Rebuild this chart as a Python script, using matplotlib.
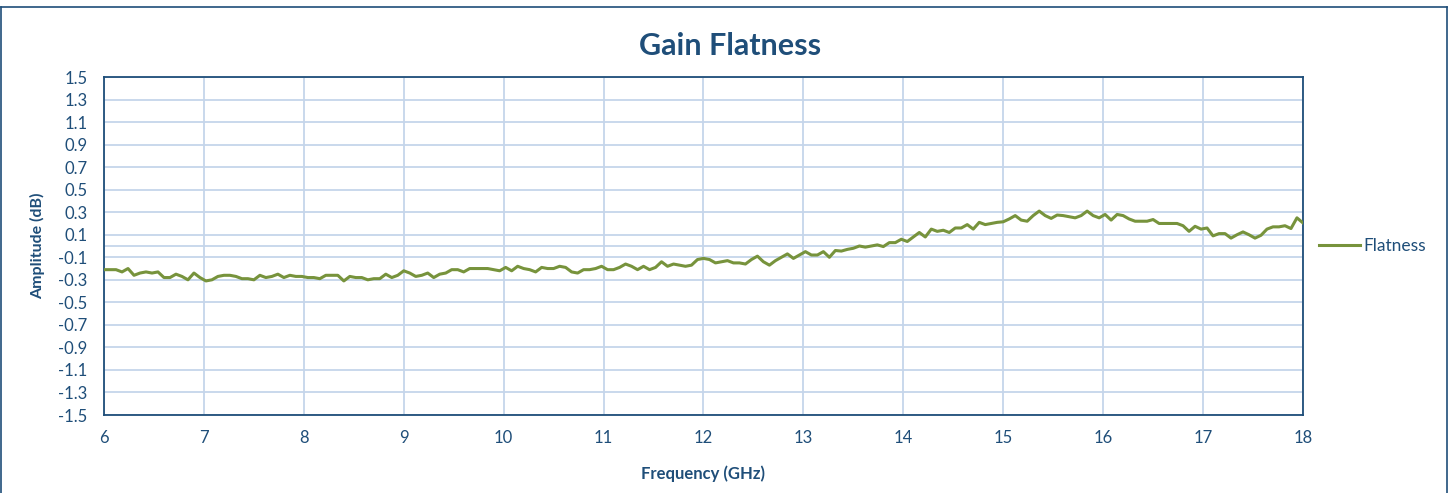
import numpy as np
import matplotlib.pyplot as plt
from matplotlib.lines import Line2D

# sweep grid 6..18 GHz, 0.06 GHz step (201 points)
freq_ghz = np.round(np.arange(6.0, 18.0001, 0.06), 2)

flatness_db = [
    # 6.00 - 6.96
    -0.21, -0.21, -0.21, -0.23, -0.20, -0.26, -0.24, -0.23, -0.24, -0.23, -0.28, -0.28, -0.25, -0.27, -0.30, -0.24, -0.28,
    # 7.02 - 7.98
    -0.31, -0.30, -0.27, -0.26, -0.26, -0.27, -0.29, -0.29, -0.30, -0.26, -0.28, -0.27, -0.25, -0.28, -0.26, -0.27, -0.27,
    # 8.04 - 8.94
    -0.28, -0.28, -0.29, -0.26, -0.26, -0.26, -0.31, -0.27, -0.28, -0.28, -0.30, -0.29, -0.29, -0.25, -0.28, -0.26,
    # 9.00 - 9.96
    -0.22, -0.24, -0.27, -0.26, -0.24, -0.28, -0.25, -0.24, -0.21, -0.21, -0.23, -0.20, -0.20, -0.20, -0.20, -0.21, -0.22,
    # 10.02 - 10.98
    -0.19, -0.22, -0.18, -0.20, -0.21, -0.23, -0.19, -0.20, -0.20, -0.18, -0.19, -0.23, -0.24, -0.21, -0.21, -0.20, -0.18,
    # 11.04 - 11.94
    -0.21, -0.21, -0.19, -0.16, -0.18, -0.21, -0.18, -0.21, -0.19, -0.14, -0.18, -0.16, -0.17, -0.18, -0.17, -0.12,
    # 12.00 - 12.96
    -0.11, -0.12, -0.15, -0.14, -0.13, -0.15, -0.15, -0.16, -0.12, -0.09, -0.14, -0.17, -0.13, -0.10, -0.07, -0.11, -0.08,
    # 13.02 - 13.98
    -0.05, -0.08, -0.08, -0.05, -0.10, -0.04, -0.045, -0.03, -0.02, 0.00, -0.01, 0.00, 0.01, -0.005, 0.03, 0.03, 0.06,
    # 14.04 - 14.94
    0.04, 0.08, 0.12, 0.08, 0.15, 0.13, 0.14, 0.12, 0.16, 0.16, 0.19, 0.15, 0.21, 0.19, 0.20, 0.21,
    # 15.00 - 15.96
    0.215, 0.24, 0.27, 0.23, 0.22, 0.27, 0.31, 0.27, 0.245, 0.275, 0.27, 0.26, 0.25, 0.27, 0.31, 0.27, 0.25,
    # 16.02 - 16.98
    0.28, 0.23, 0.28, 0.27, 0.24, 0.22, 0.22, 0.22, 0.235, 0.20, 0.20, 0.20, 0.20, 0.18, 0.13, 0.175, 0.15,
    # 17.04 - 18.00
    0.16, 0.09, 0.11, 0.11, 0.07, 0.10, 0.125, 0.10, 0.07, 0.095, 0.15, 0.17, 0.17, 0.18, 0.155, 0.25, 0.205,
]

x_ticks = list(range(6, 19))
y_ticks = [1.5, 1.3, 1.1, 0.9, 0.7, 0.5, 0.3, 0.1, -0.1, -0.3, -0.5, -0.7, -0.9, -1.1, -1.3, -1.5]

navy = '#1f4e79'
grid_col = '#c5d5ea'
line_col = '#77933c'

plt.rcParams['font.family'] = ['Lato', 'DejaVu Sans']

fig = plt.figure(figsize=(14.55, 4.93), dpi=100)
ax = fig.add_axes([0.0715, 0.1582, 0.824, 0.6856])

ax.plot(freq_ghz, flatness_db, color=line_col, lw=2.2, label='Flatness', zorder=3)

ax.set_xlim(6, 18)
ax.set_ylim(-1.5, 1.5)
ax.set_xticks(x_ticks)
ax.set_yticks(y_ticks)
ax.set_yticklabels([f'{v:.1f}' for v in y_ticks])
ax.grid(True, color=grid_col, lw=1.3)
ax.axhline(0, color=grid_col, lw=1.3, zorder=1)
ax.set_axisbelow(True)
ax.tick_params(length=0, labelsize=12, labelcolor=navy)
ax.tick_params(axis='x', pad=11)
ax.tick_params(axis='y', pad=12)
for s in ax.spines.values():
    s.set_color(navy)
    s.set_linewidth(1.3)

fig.text(0.502, 0.906, 'Gain Flatness', fontsize=22, fontweight='bold', color=navy,
         ha='center', va='center')
ax.set_xlabel('Frequency (GHz)', fontsize=12, fontweight='bold', color=navy)
ax.set_ylabel('Amplitude (dB)', fontsize=11.5, fontweight='bold', color=navy)
ax.xaxis.set_label_coords(0.5, -0.148)
ax.yaxis.set_label_coords(-0.049, 0.5)

ax.legend(loc='center left', bbox_to_anchor=(1.013, 0.5), frameon=False,
          fontsize=12.5, handlelength=2.4, handletextpad=0.2, labelcolor=navy,
          borderaxespad=0, borderpad=0)

# outer chart border
for xs, ys in [([0.001, 0.001], [0, 0.986]), ([0.001, 0.9945], [0.986, 0.986]),
               ([0.9945, 0.9945], [0, 0.986])]:
    fig.add_artist(Line2D(xs, ys, color=navy, lw=1.2, transform=fig.transFigure))

fig.savefig('out.png', dpi=100)
